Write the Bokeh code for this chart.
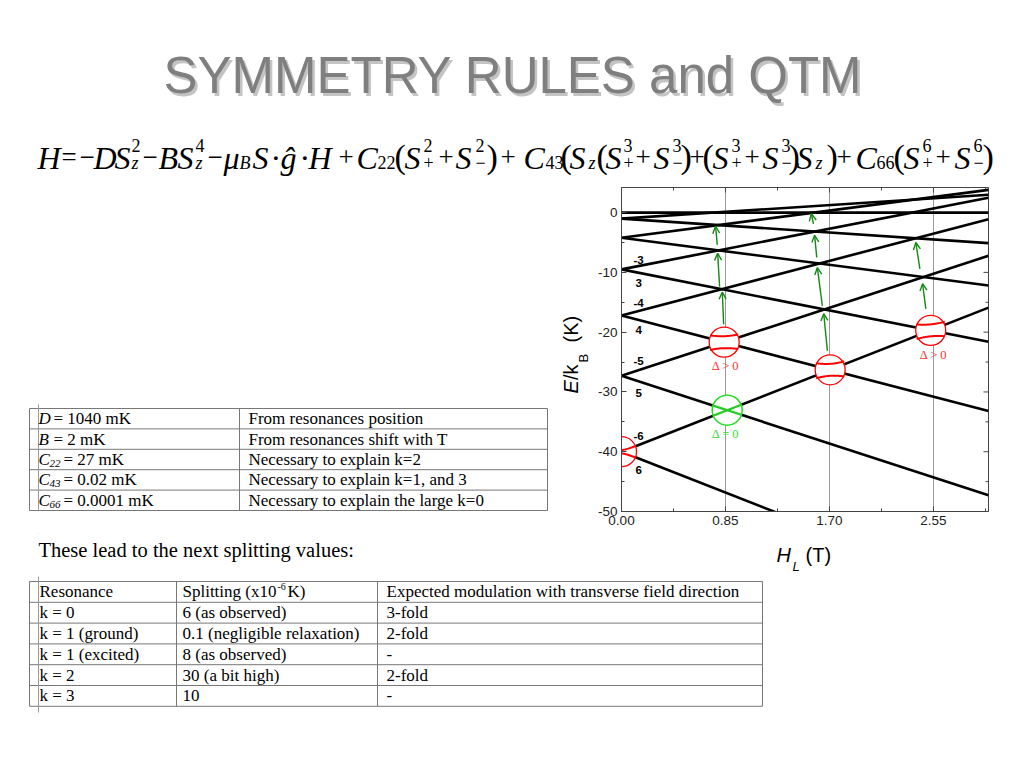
import numpy as np
from bokeh.plotting import figure
from bokeh.models import Range1d, FixedTicker, Arrow, OpenHead, ColumnDataSource
from bokeh.layouts import column, row
from bokeh.embed import file_html
from bokeh.resources import INLINE
from bokeh.core.properties import value

# ---------------- data ----------------
H_START = 0.0
H_END = 3.0
E_MIN = -50.0
E_MAX = 4.2
level_m = [0, 1, -1, 2, -2, 3, -3, 4, -4, 5, -5, 6, -6]
E_start = [0.0, -1.0, -1.0, -4.2, -4.2, -9.5, -9.5, -17.2, -17.2, -27.3, -27.3, -40.0, -40.0]
E_end = [0.0, -5.1, 3.0, -12.2, 3.8, -21.6, 2.5, -33.2, -1.1, -47.3, -7.2, -64.1, -15.9]

x_ticks = [0.0, 0.85, 1.70, 2.55]
x_minor = [0.425, 1.275, 2.125, 2.975]
x_tick_labels = ["0.00", "0.85", "1.70", "2.55"]
y_ticks = [-50, -40, -30, -20, -10, 0]
y_minor = [-45, -35, -25, -15, -5]
y_tick_labels = ["-50", "-40", "-30", "-20", "-10", "0"]

level_label_text = ["-3", "3", "-4", "4", "-5", "5", "-6", "6"]
level_label_H = [0.14, 0.14, 0.14, 0.14, 0.14, 0.14, 0.14, 0.14]
level_label_E = [-7.9, -11.8, -15.1, -19.7, -24.8, -30.2, -37.4, -43.1]

avoided_pairs = [(-5, 4), (-6, 4), (-6, 3), (-6, 6)]
avoided_gap = [1.0, 1.0, 1.0, 0.3]
crossing_pairs = [(-6, 5)]

delta_text = ["Δ > 0", "Δ > 0", "Δ = 0"]
delta_H = [0.85, 2.55, 0.85]
delta_E = [-25.7, -23.9, -37.0]
delta_color = ["#ff3030", "#ff3030", "#33dd33"]

arrow_H0 = [0.835, 0.802, 0.783, 1.683, 1.642, 1.596, 1.569, 2.488, 2.439]
arrow_E0 = [-18.7, -12.4, -5.4, -23.1, -15.6, -7.5, -1.9, -16.1, -9.4]
arrow_H1 = [0.824, 0.786, 0.769, 1.653, 1.601, 1.579, 1.552, 2.461, 2.406]
arrow_E1 = [-13.3, -6.8, -2.3, -16.9, -9.2, -3.8, -0.2, -11.9, -5.0]

params_symbol = ["D", "B", "C", "C", "C"]
params_sub = ["", "", "22", "43", "66"]
params_value = ["= 1040 mK", "= 2 mK", "= 27 mK", "= 0.02 mK", "= 0.0001 mK"]
params_reason = ["From resonances position", "From resonances shift with T",
                 "Necessary to explain k=2", "Necessary to explain k=1, and 3",
                 "Necessary to explain the large k=0"]

res_name = ["k = 0", "k = 1 (ground)", "k = 1 (excited)", "k = 2", "k = 3"]
res_split = ["6 (as observed)", "0.1 (negligible relaxation)", "8 (as observed)", "30 (a bit high)", "10"]
res_mod = ["3-fold", "2-fold", "-", "2-fold", "-"]

SERIF = value("Liberation Serif")
SANS = value("Liberation Sans")

# page layout (screenshot pixel coordinates)
PAGE_W = 1016
TOP_H = 178          # title + formula band
MID_Y1 = 533         # end of chart band
PAGE_H = 760
CHART_X0 = 590
FRAME_L, FRAME_R, FRAME_T, FRAME_B = 621, 988, 187, 511


def blank(w, h, x0, x1, y0, y1, **kw):
    # y is drawn negated so that the screen y grows downward without a flipped range
    p = figure(width=w, height=h, x_range=Range1d(x0, x1), y_range=Range1d(-y1, -y0),
               output_backend="svg", toolbar_location=None, min_border=0,
               x_axis_type=None, y_axis_type=None, **kw)
    p.grid.visible = False
    p.outline_line_color = None
    return p


def neg(ys):
    return [-y for y in ys]


# ---------------- top: title + formula ----------------
top = blank(PAGE_W, TOP_H, 0, PAGE_W, 0, TOP_H)
top.text([515], neg([77.5]), ["SYMMETRY RULES and QTM"], text_font=SANS, text_font_size="51px",
         text_color="#c4c4c4", text_align="center", text_baseline="middle")
top.text([512.5], neg([75]), ["SYMMETRY RULES and QTM"], text_font=SANS, text_font_size="51px",
         text_color="#7f7f7f", text_align="center", text_baseline="middle")

formula = [
    ("H", 37, "it"), ("=", 61, "op"), ("−", 79, "op"), ("D", 93, "it"), ("S", 114, "it"),
    ("2", 131, "sup"), ("z", 131, "subi"),
    ("−", 142, "op"), ("B", 158, "it"), ("S", 177, "it"), ("4", 195, "sup"), ("z", 195, "subi"),
    ("−", 207, "op"), ("μ", 223, "it"), ("B", 239, "subi"), ("S", 252, "it"), ("·", 270, "rm"),
    ("ĝ", 280, "it"), ("·", 299, "rm"), ("H", 308, "it"), ("+", 338, "op"),
    ("C", 356, "it"), ("22", 377, "sub"), ("(", 394, "par"), ("S", 404, "it"), ("2", 423, "sup"), ("+", 423, "sub"),
    ("+", 438, "op"), ("S", 455, "it"), ("2", 475, "sup"), ("−", 475, "sub"), (")", 486, "par"),
    ("+", 500, "op"), ("C", 523, "it"), ("43", 545, "sub"), ("(", 560, "par"), ("S", 569, "it"), ("z", 588, "subi"),
    ("(", 596, "par"), ("S", 605, "it"), ("3", 623, "sup"), ("+", 623, "sub"), ("+", 635, "op"),
    ("S", 653, "it"), ("3", 672, "sup"), ("−", 672, "sub"), (")", 680, "par"), ("+", 689, "op"),
    ("(", 702, "par"), ("S", 712, "it"), ("3", 731, "sup"), ("+", 731, "sub"), ("+", 744, "op"),
    ("S", 762, "it"), ("3", 781, "sup"), ("−", 781, "sub"), (")", 788, "par"), ("S", 796, "it"), ("z", 815, "subi"),
    (")", 826, "par"), ("+", 836, "op"), ("C", 855, "it"), ("66", 876, "sub"), ("(", 893, "par"),
    ("S", 903, "it"), ("6", 922, "sup"), ("+", 922, "sub"), ("+", 935, "op"),
    ("S", 954, "it"), ("6", 973, "sup"), ("−", 973, "sub"), (")", 982, "par"),
]
styles = {"it": (157, "32px", "italic"), "rm": (157, "32px", "normal"), "op": (156, "27px", "normal"),
          "sup": (145, "18px", "normal"), "subi": (162, "18px", "italic"), "sub": (162, "18px", "normal"),
          "par": (156, "34px", "normal")}
for key, (yb, fs, st) in styles.items():
    pcs = [f for f in formula if f[2] == key]
    top.text([f[1] for f in pcs], neg([yb] * len(pcs)), [f[0] for f in pcs], text_font=SERIF,
             text_font_size=fs, text_font_style=st, text_color="black",
             text_align="left", text_baseline="alphabetic")

# ---------------- left: parameter table + y-axis title ----------------
# the row aligns plot frames, so this frame matches the chart frame (FRAME_T..FRAME_B)
left = blank(CHART_X0, MID_Y1 - TOP_H, 0, CHART_X0, FRAME_T, FRAME_B,
             min_border_top=FRAME_T - TOP_H, min_border_bottom=MID_Y1 - FRAME_B)
T1_TOP, T1_ROW, T1_L, T1_MID, T1_R = 408, 20.4, 29, 239, 547
ys = [T1_TOP + i * T1_ROW for i in range(len(params_value) + 1)]
left.segment(x0=[T1_L] * len(ys), x1=[T1_R] * len(ys), y0=neg(ys), y1=neg(ys), line_color="#777777", line_width=1)
left.segment(x0=[T1_L, T1_MID, T1_R], x1=[T1_L, T1_MID, T1_R], y0=neg([ys[0]] * 3), y1=neg([ys[-1]] * 3),
             line_color="#777777", line_width=1)
left.segment(x0=[38], x1=[38], y0=neg([404]), y1=neg([FRAME_B]), line_color="#9a9a9a", line_width=1)
cy = [T1_TOP + (i + 0.5) * T1_ROW for i in range(len(params_value))]
left.text([38] * 5, neg(cy), params_symbol, text_font=SERIF, text_font_size="17px", text_font_style="italic",
          text_baseline="middle")
sub_rows = [i for i in range(5) if params_sub[i]]
left.text([49] * len(sub_rows), neg([cy[i] + 4 for i in sub_rows]), [params_sub[i] for i in sub_rows],
          text_font=SERIF, text_font_size="11px", text_font_style="italic", text_baseline="middle")
val_x = [53 if not params_sub[i] else 63 for i in range(5)]
left.text(val_x, neg(cy), params_value, text_font=SERIF, text_font_size="17px", text_baseline="middle")
left.text([248] * 5, neg(cy), params_reason, text_font=SERIF, text_font_size="17px", text_baseline="middle")

PI2 = np.pi / 2
left.text([570], neg([393]), ["E"], text_font=SANS, text_font_size="20px", text_font_style="italic",
          angle=PI2, text_align="left", text_baseline="middle")
left.text([570], neg([379.5]), ["/k"], text_font=SANS, text_font_size="20px",
          angle=PI2, text_align="left", text_baseline="middle")
left.text([583], neg([362]), ["B"], text_font=SANS, text_font_size="13px",
          angle=PI2, text_align="left", text_baseline="middle")
left.text([570], neg([342]), ["(K)"], text_font=SANS, text_font_size="20px",
          angle=PI2, text_align="left", text_baseline="middle")

# ---------------- chart ----------------
chart = figure(width=PAGE_W - CHART_X0, height=MID_Y1 - TOP_H,
               x_range=Range1d(H_START, H_END), y_range=Range1d(E_MIN, E_MAX),
               output_backend="svg", toolbar_location=None,
               min_border_left=FRAME_L - CHART_X0, min_border_right=PAGE_W - FRAME_R,
               min_border_top=FRAME_T - TOP_H, min_border_bottom=MID_Y1 - FRAME_B)
chart.background_fill_color = "white"
chart.outline_line_color = "#444444"
chart.ygrid.visible = False
chart.xgrid.ticker = FixedTicker(ticks=x_ticks[1:])
chart.xgrid.grid_line_color = "#9a9a9a"
chart.xgrid.grid_line_width = 1

for ax, tk, mn, lab in [(chart.xaxis[0], x_ticks, x_minor, x_tick_labels),
                        (chart.yaxis[0], y_ticks, y_minor, y_tick_labels)]:
    ax.ticker = FixedTicker(ticks=tk, minor_ticks=mn)
    ax.major_label_overrides = {t: l for t, l in zip(tk, lab)}
    ax.major_tick_in = 5
    ax.major_tick_out = 0
    ax.minor_tick_in = 3
    ax.minor_tick_out = 0
    ax.axis_line_color = "#444444"
    ax.major_tick_line_color = "#444444"
    ax.minor_tick_line_color = "#444444"
    ax.major_label_text_font = "Liberation Sans"
    ax.major_label_text_font_size = "13.5px"
    ax.major_label_text_color = "#222222"
    ax.major_label_standoff = 4

# mirrored inward ticks on the right and top edges
TX = 5 / (FRAME_R - FRAME_L) * (H_END - H_START)
TY = 5 / (FRAME_B - FRAME_T) * (E_MAX - E_MIN)
chart.segment(x0=[H_END - TX] * len(y_ticks) + [H_END - 0.6 * TX] * len(y_minor), x1=[H_END] * (len(y_ticks) + len(y_minor)),
              y0=y_ticks + y_minor, y1=y_ticks + y_minor, line_color="#444444", line_width=1)
chart.segment(x0=x_ticks + x_minor, x1=x_ticks + x_minor,
              y0=[E_MAX - TY] * len(x_ticks) + [E_MAX - 0.6 * TY] * len(x_minor), y1=[E_MAX] * (len(x_ticks) + len(x_minor)),
              line_color="#444444", line_width=1)

# level lines
chart.segment(x0=[H_START] * len(level_m), x1=[H_END] * len(level_m), y0=E_start, y1=E_end,
              line_color="black", line_width=2.6)

slope = {m: (e1 - e0) / (H_END - H_START) for m, e0, e1 in zip(level_m, E_start, E_end)}
icpt = {m: e0 for m, e0 in zip(level_m, E_start)}


def cross(a, b):
    h = (icpt[b] - icpt[a]) / (slope[a] - slope[b])
    return h, icpt[a] + slope[a] * h


av = [cross(a, b) for a, b in avoided_pairs]
cr = [cross(a, b) for a, b in crossing_pairs]
allc = av + cr
chart.scatter([c[0] for c in allc], [c[1] for c in allc], size=30, fill_color="white", line_color=None)

DX = 0.115
for (a, b), g, (hc, ec) in zip(avoided_pairs, avoided_gap, av):
    hx = np.linspace(hc - DX, hc + DX, 41)
    e1 = icpt[a] + slope[a] * hx
    e2 = icpt[b] + slope[b] * hx
    mid = (e1 + e2) / 2
    half = np.sqrt(((e1 - e2) / 2) ** 2 + g ** 2)
    chart.line(hx, mid + half, line_color="#ff0000", line_width=2)
    chart.line(hx, mid - half, line_color="#ff0000", line_width=2)
for (a, b), (hc, ec) in zip(crossing_pairs, cr):
    for m in (a, b):
        chart.segment(x0=[hc - DX], x1=[hc + DX], y0=[icpt[m] + slope[m] * (hc - DX)],
                      y1=[icpt[m] + slope[m] * (hc + DX)], line_color="#22cc22", line_width=2.2)

chart.scatter([c[0] for c in av], [c[1] for c in av], size=30, fill_color=None, line_color="#ff0000",
              line_width=1.3)
chart.scatter([c[0] for c in cr], [c[1] for c in cr], size=30, fill_color=None, line_color="#22dd22",
              line_width=1.5)

arrows = ColumnDataSource(dict(x0=arrow_H0, y0=arrow_E0, x1=arrow_H1, y1=arrow_E1))
chart.add_layout(Arrow(end=OpenHead(size=7, line_color="#138a13", line_width=1.4), x_start="x0", y_start="y0",
                       x_end="x1", y_end="y1", source=arrows, line_color="#138a13", line_width=1.4))

chart.text(level_label_H, level_label_E, level_label_text, text_font=SANS, text_font_size="11.5px",
           text_font_style="bold", text_align="center", text_baseline="middle", text_color="black")
chart.text(delta_H, delta_E, delta_text, text_font=SERIF, text_font_size="12.5px", text_align="center",
           text_baseline="middle", text_color=delta_color)

# ---------------- bottom: x-axis title, sentence, splitting table ----------------
bottom = blank(PAGE_W, PAGE_H - MID_Y1, 0, PAGE_W, MID_Y1, PAGE_H)
bottom.text([776], neg([554]), ["H"], text_font=SANS, text_font_size="20px", text_font_style="italic",
            text_baseline="middle")
bottom.text([792], neg([566]), ["L"], text_font=SANS, text_font_size="13px", text_font_style="italic",
            text_baseline="middle")
bottom.text([805], neg([554]), ["(T)"], text_font=SANS, text_font_size="20px", text_baseline="middle")

bottom.segment(x0=[38], x1=[38], y0=neg([MID_Y1]), y1=neg([532]), line_color="#9a9a9a", line_width=1)
bottom.text([38], neg([549]), ["These lead to the next splitting values:"], text_font=SERIF,
            text_font_size="20.5px", text_baseline="middle")

T2_TOP, T2_ROW = 581, 20.8
T2_X = [29, 176, 377, 762]
ys2 = [T2_TOP + i * T2_ROW for i in range(len(res_name) + 2)]
bottom.segment(x0=[T2_X[0]] * len(ys2), x1=[T2_X[-1]] * len(ys2), y0=neg(ys2), y1=neg(ys2),
               line_color="#777777", line_width=1)
bottom.segment(x0=T2_X, x1=T2_X, y0=neg([ys2[0]] * 4), y1=neg([ys2[-1]] * 4), line_color="#777777", line_width=1)
bottom.segment(x0=[38], x1=[38], y0=neg([576]), y1=neg([712]), line_color="#9a9a9a", line_width=1)
cy2 = [T2_TOP + (i + 0.5) * T2_ROW for i in range(len(res_name) + 1)]
bottom.text([39, 182, 386], neg([cy2[0]] * 3),
            ["Resonance", "Splitting (x10", "Expected modulation with transverse field direction"],
            text_font=SERIF, text_font_size="17px", text_baseline="middle")
bottom.text([277], neg([cy2[0] - 5]), ["-6"], text_font=SERIF, text_font_size="10px", text_baseline="middle")
bottom.text([287], neg([cy2[0]]), [" K)"], text_font=SERIF, text_font_size="17px", text_baseline="middle")
bottom.text([39] * 5, neg(cy2[1:]), res_name, text_font=SERIF, text_font_size="17px", text_baseline="middle")
bottom.text([182] * 5, neg(cy2[1:]), res_split, text_font=SERIF, text_font_size="17px", text_baseline="middle")
bottom.text([386] * 5, neg(cy2[1:]), res_mod, text_font=SERIF, text_font_size="17px", text_baseline="middle")

layout = column(top, row(left, chart), bottom)
open("out.html", "w").write(file_html(layout, INLINE))
